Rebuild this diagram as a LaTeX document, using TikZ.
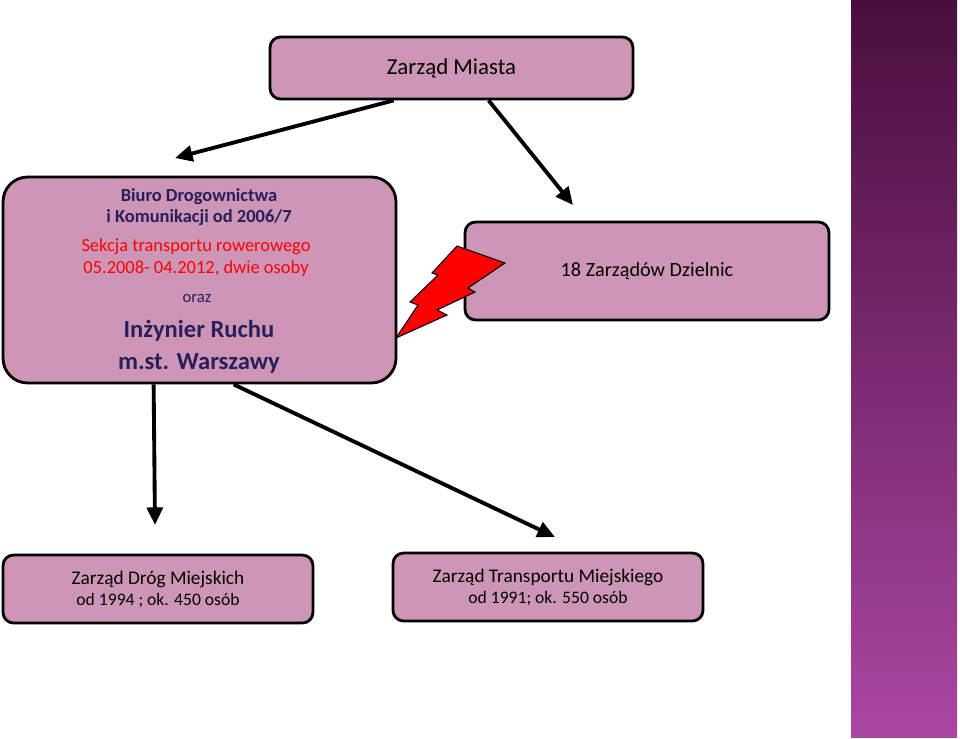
\documentclass[tikz,border=0pt]{standalone}
\usepackage{fontspec}
\setmainfont{Carlito}
\usetikzlibrary{arrows.meta}
\definecolor{boxpink}{RGB}{206,150,182}
\definecolor{darkblue}{RGB}{40,30,90}
\definecolor{stripdark}{RGB}{74,14,62}
\definecolor{striplight}{RGB}{170,70,162}
\tikzset{
  unitbox/.style={draw,line width=1.6pt,fill=boxpink,rounded corners=6pt,align=center},
  bigarrow/.style={line width=2.2pt,-{Triangle[length=10pt,width=9pt]}}
}
\begin{document}
\begin{tikzpicture}[x=0.02cm,y=-0.02cm]
\useasboundingbox (0,0) rectangle (960,738);
% strip on the right
\shade[top color=stripdark,bottom color=striplight] (851,0) rectangle (957,737);

\node[unitbox,minimum width=363\pgflinewidth,minimum width=7.26cm,minimum height=1.24cm] (miasto) at (451.5,68) {\fontsize{13}{15}\selectfont Zarząd Miasta};

\node[unitbox,rounded corners=14pt,minimum width=7.86cm,minimum height=4.12cm] (biuro) at (199.5,280) {};
\node[align=center,text=darkblue,font=\fontsize{10.5}{12}\selectfont] (biurotxt) at (199,207) {\textbf{Biuro Drogownictwa}\\\textbf{i Komunikacji od 2006/7}};
\node[align=center,text=red,font=\fontsize{10.5}{12.5}\selectfont] (sekcja) at (196,258) {Sekcja transportu rowerowego\\05.2008- 04.2012, dwie osoby};
\node[text=darkblue,font=\fontsize{9.5}{11}\selectfont] (oraz) at (197,298) {oraz};
\node[align=center,text=darkblue,font=\bfseries\fontsize{14}{18}\selectfont] (inz) at (199,347) {Inżynier Ruchu\\m.st. Warszawy};

\node[unitbox,minimum width=7.28cm,minimum height=1.96cm] (dzielnice) at (647,271) {\fontsize{11.5}{14}\selectfont 18 Zarządów Dzielnic};

\node[unitbox,minimum width=6.2cm,minimum height=1.36cm] (zdm) at (158,589) {\fontsize{11}{13.5}\selectfont Zarząd Dróg Miejskich\\od 1994 ; ok. 450 osób};
\node[unitbox,minimum width=6.2cm,minimum height=1.36cm] (ztm) at (548,587) {\fontsize{11}{13.5}\selectfont Zarząd Transportu Miejskiego\\od 1991; ok. 550 osób};

% lightning
\draw[fill=red,line width=0.6pt,line join=miter] (396,338) -- (447,315) -- (437,310) -- (475,292) -- (468,288) -- (505,263) -- (457,246) -- (432,273) -- (438,275) -- (410,302) -- (418,305) -- cycle;

% arrows
\coordinate (a1) at (175,158);
\coordinate (a2) at (573,205);
\coordinate (a3) at (155,525);
\coordinate (a4) at (555,537);
\draw[bigarrow] (miasto.south west) ++(125,0) -- (a1);
\draw[bigarrow] (miasto.south west) ++(220,0) -- (a2);
\draw[bigarrow] (biuro.south west) ++(152,0) -- (a3);
\draw[bigarrow] (biuro.south west) ++(232,0) -- (a4);
\end{tikzpicture}
\end{document}
